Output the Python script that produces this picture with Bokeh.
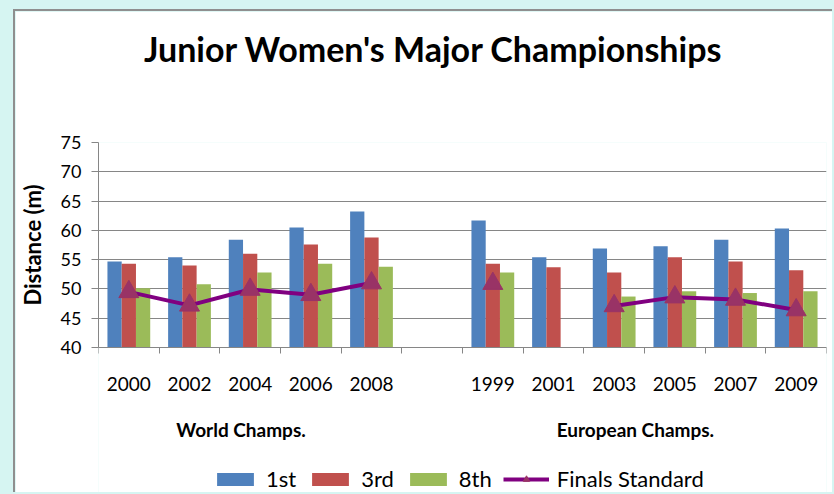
from bokeh.plotting import figure
from bokeh.models import (Range1d, FixedTicker, Legend, LegendItem, LinearAxis,
                          ColumnDataSource, GlobalInlineStyleSheet)
from bokeh.transform import dodge
from bokeh.embed import file_html
from bokeh.resources import INLINE

nan = float("nan")

title_text = "Junior Women's Major Championships"
y_title = "Distance (m)"
group_names = ["World Champs.", "European Champs."]
world_years = ["2000", "2002", "2004", "2006", "2008"]
euro_years = ["1999", "2001", "2003", "2005", "2007", "2009"]

first_place = [54.7, 55.4, 58.4, 60.5, 63.2, 61.7, 55.4, 56.9, 57.3, 58.4, 60.3]
third_place = [54.3, 54.0, 56.0, 57.6, 58.8, 54.3, 53.7, 52.8, 55.4, 54.7, 53.2]
eighth_place = [50.1, 50.8, 52.8, 54.3, 53.8, 52.8, nan, 48.7, 49.6, 49.3, 49.6]
finals_standard = [49.5, 47.2, 49.9, 49.0, 51.0, 50.9, nan, 47.1, 48.6, 48.2, 46.4]

y_ticks = [40, 45, 50, 55, 60, 65, 70, 75]

# slot layout: world years, one empty slot, european years
n_w = len(world_years)
n_e = len(euro_years)
n_slots = n_w + 1 + n_e
xs = [i + 0.5 for i in range(n_w)] + [n_w + 1 + j + 0.5 for j in range(n_e)]
years = world_years + euro_years

# line data with a break at the empty slot
line_x = xs[:n_w] + [n_w + 0.5] + xs[n_w:]
line_y = finals_standard[:n_w] + [nan] + finals_standard[n_w:]

src = ColumnDataSource(dict(x=xs, first=first_place, third=third_place,
                            eighth=eighth_place))

FONT = "Lato"
GRID = "#868686"

# the frame runs from the top gridline down to the bottom of the chart area,
# so that the axes (fixed at the minimum) and the legend can sit beneath the bars
W, H = 819, 483
TOP, LEFT, RIGHT = 131, 83, 8
AXIS_PX = 205                      # pixel height between y_ticks[0] and y_ticks[-1]
span = y_ticks[-1] - y_ticks[0]
y_start = y_ticks[0] - span * (H - TOP - AXIS_PX) / AXIS_PX

p = figure(width=W, height=H, output_backend="svg", toolbar_location=None,
           x_range=Range1d(0, n_slots), y_range=Range1d(y_start, y_ticks[-1]),
           min_border_left=LEFT, min_border_right=RIGHT, min_border_top=TOP,
           min_border_bottom=0)
p.background_fill_color = "white"
p.border_fill_color = "white"
p.outline_line_color = None
p.styles = {"margin-left": "13px", "margin-top": "9px",
            "border-left": "2px solid #8f8f8f", "border-top": "2px solid #8f8f8f"}
p.stylesheets = [GlobalInlineStyleSheet(
    css="body { background-color: #d6f5f2; overflow: hidden; }")]

bw = 0.235
base = y_ticks[0]
r1 = p.vbar(x=dodge("x", -bw, range=p.x_range), top="first", bottom=base, width=bw,
            source=src, fill_color="#4F81BD", line_color=None)
r3 = p.vbar(x="x", top="third", bottom=base, width=bw,
            source=src, fill_color="#C0504D", line_color=None)
r8 = p.vbar(x=dodge("x", bw, range=p.x_range), top="eighth", bottom=base, width=bw,
            source=src, fill_color="#9BBB59", line_color=None)
rl = p.line(line_x, line_y, line_color="#800080", line_width=4)
rm = p.scatter(xs, finals_standard, marker="triangle", size=20,
               fill_color="#993366", line_color="#993366")

# grid
p.xgrid.grid_line_color = None
p.ygrid.ticker = FixedTicker(ticks=y_ticks)
p.ygrid.grid_line_color = GRID
p.ygrid.grid_line_width = 1

# y axis
p.yaxis.ticker = FixedTicker(ticks=y_ticks)
p.yaxis.bounds = (y_ticks[0], y_ticks[-1])
p.yaxis.axis_line_color = GRID
p.yaxis.major_tick_line_color = GRID
p.yaxis.major_tick_out = 7
p.yaxis.major_tick_in = 0
p.yaxis.minor_tick_line_color = None
p.yaxis.major_label_standoff = 10
p.yaxis.major_label_text_font = FONT
p.yaxis.major_label_text_font_size = "18px"
p.yaxis.major_label_text_color = "black"

# y title: rotated single tick label of an invisible axis, centred on the value span
y_mid = [(y_ticks[0] + y_ticks[-1]) / 2]
ytaxis = LinearAxis(ticker=FixedTicker(ticks=y_mid),
                    major_label_overrides={y_mid[0]: y_title},
                    major_label_orientation="vertical",
                    axis_line_color=None, major_tick_line_color=None,
                    minor_tick_line_color=None, major_tick_out=0, major_tick_in=0,
                    major_label_standoff=12, major_label_text_font=FONT,
                    major_label_text_font_size="22px",
                    major_label_text_font_style="bold",
                    major_label_text_color="black")
p.add_layout(ytaxis, "left")

# x axis at the value-axis minimum: years under each slot, ticks at slot boundaries
xa = p.xaxis[0]
xa.fixed_location = y_ticks[0]
xa.ticker = FixedTicker(ticks=xs, minor_ticks=list(range(n_slots + 1)))
xa.major_label_overrides = {x: y for x, y in zip(xs, years)}
xa.axis_line_color = GRID
xa.major_tick_line_color = None
xa.major_tick_out = 0
xa.major_tick_in = 0
xa.minor_tick_line_color = GRID
xa.minor_tick_out = 6
xa.minor_tick_in = 0
xa.major_label_standoff = 23
xa.major_label_text_font = FONT
xa.major_label_text_font_size = "19px"
xa.major_label_text_color = "black"

# group names, also hung from the axis minimum
group_centers = [n_w / 2 - 0.15, n_w + 1 + n_e / 2 - 0.15]
gaxis = LinearAxis(fixed_location=y_ticks[0],
                   ticker=FixedTicker(ticks=group_centers),
                   major_label_overrides={x: g for x, g in zip(group_centers, group_names)},
                   axis_line_color=None, major_tick_line_color=None,
                   minor_tick_line_color=None, major_tick_out=0, major_tick_in=0,
                   major_label_standoff=70, major_label_text_font=FONT,
                   major_label_text_font_size="19px",
                   major_label_text_font_style="bold",
                   major_label_text_color="black")
p.add_layout(gaxis, "below")

# chart title: single tick label of an invisible axis above the frame
title_x = [(433 - 98) / (826 - 98) * n_slots]
taxis = LinearAxis(ticker=FixedTicker(ticks=title_x),
                   major_label_overrides={title_x[0]: title_text},
                   axis_line_color=None, major_tick_line_color=None,
                   minor_tick_line_color=None, major_tick_out=0, major_tick_in=0,
                   major_label_standoff=74, major_label_text_font=FONT,
                   major_label_text_font_size="34px",
                   major_label_text_font_style="bold",
                   major_label_text_color="black")
p.add_layout(taxis, "above")

legend = Legend(items=[LegendItem(label="1st", renderers=[r1]),
                       LegendItem(label="3rd", renderers=[r3]),
                       LegendItem(label="8th", renderers=[r8]),
                       LegendItem(label="Finals Standard", renderers=[rl, rm])],
                orientation="horizontal", location=(114, 2),
                glyph_width=46, glyph_height=16, label_standoff=8, spacing=11,
                padding=0, margin=0, border_line_color=None,
                background_fill_alpha=0, label_text_font=FONT,
                label_text_font_size="22px", label_text_color="black")
p.add_layout(legend, "center")

open("out.html", "w").write(file_html(p, INLINE))
